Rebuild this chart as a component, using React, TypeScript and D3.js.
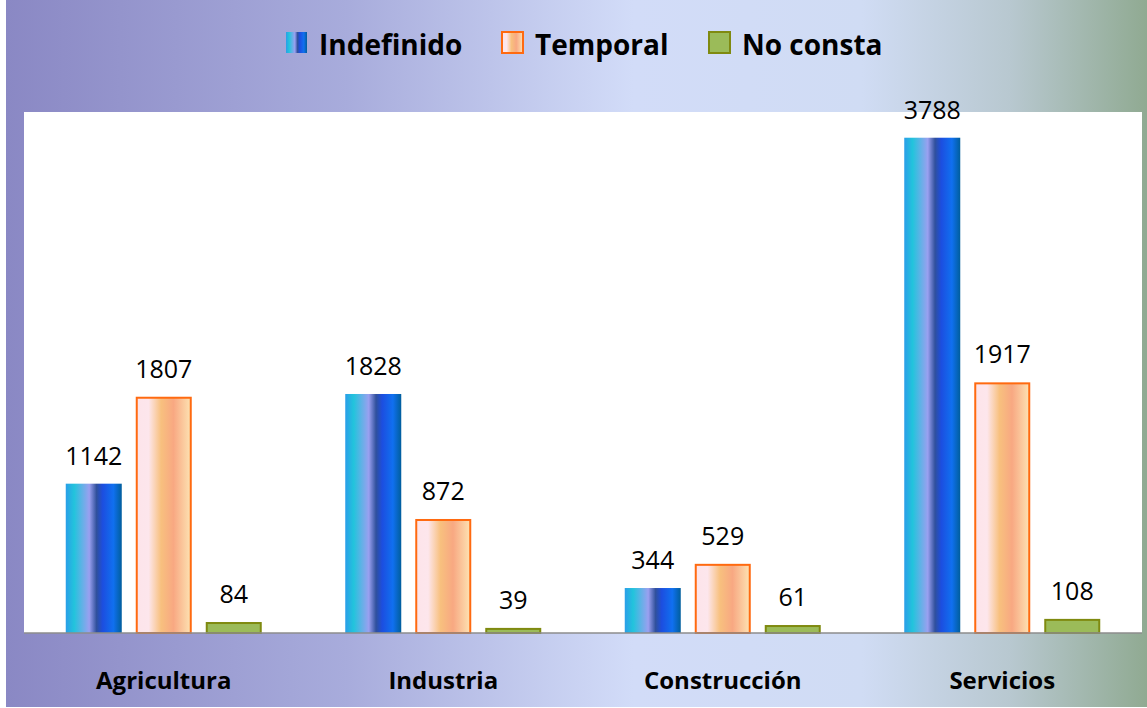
import React, { useEffect, useRef } from 'react';
import * as d3 from 'd3';

const categories = ['Agricultura', 'Industria', 'Construcción', 'Servicios'];
const seriesNames = ['Indefinido', 'Temporal', 'No consta'];
const indefinido = [1142, 1828, 344, 3788];
const temporal = [1807, 872, 529, 1917];
const noConsta = [84, 39, 61, 108];

const App = () => {
    const svgRef = useRef<SVGSVGElement>(null);

    useEffect(() => {
        const width = 1147;
        const height = 708;
        const plot = { left: 24, right: 1142, top: 112, bottom: 633 };
        const svg = d3.select(svgRef.current)
            .attr('width', width)
            .attr('height', height);
        svg.selectAll('*').remove();

        const defs = svg.append('defs');
        const addGrad = (id, stops) => {
            const g = defs.append('linearGradient').attr('id', id)
                .attr('x1', '0%').attr('x2', '100%').attr('y1', '0%').attr('y2', '0%');
            stops.forEach(([o, c]) => g.append('stop').attr('offset', o).attr('stop-color', c));
        };
        addGrad('bg', [['0%', '#8a88c4'], ['30%', '#a8acdc'], ['55%', '#d2dcf8'], ['75%', '#d0dcf4'], ['88%', '#b8c8d0'], ['100%', '#90aa92']]);
        addGrad('gIndef', [['0%', '#2a9ee8'], ['15%', '#22c4dc'], ['42%', '#9aa0f0'], ['55%', '#30509c'], ['66%', '#1c4ee0'], ['85%', '#1070f0'], ['100%', '#005e9c']]);
        addGrad('gTemp', [['0%', '#fde4ea'], ['22%', '#fde6ec'], ['45%', '#f8c07e'], ['68%', '#f8a882'], ['100%', '#fde2b2']]);

        svg.append('rect').attr('x', 6).attr('y', 0).attr('width', width - 6).attr('height', height - 1)
            .attr('fill', 'url(#bg)');
        svg.append('rect').attr('x', plot.left).attr('y', plot.top)
            .attr('width', plot.right - plot.left).attr('height', plot.bottom - plot.top)
            .attr('fill', '#ffffff');

        const x0 = d3.scaleBand().domain(categories).range([plot.left, plot.right]);
        const x1 = d3.scalePoint().domain(seriesNames).range([-70, 70]);
        const y = d3.scaleLinear().domain([0, 4000]).range([plot.bottom, plot.top - 2]);
        const barW = 56;

        const series = [
            { name: 'Indefinido', values: indefinido, fill: 'url(#gIndef)', stroke: 'none' },
            { name: 'Temporal', values: temporal, fill: 'url(#gTemp)', stroke: '#ff6a10' },
            { name: 'No consta', values: noConsta, fill: '#9bbb59', stroke: '#7f8a10' },
        ];

        const font = "'Open Sans', 'Liberation Sans', sans-serif";

        series.forEach(s => {
            const rows = categories.map((c, i) => ({ c, v: s.values[i] }));
            const inset = s.stroke !== 'none' ? 1 : 0;
            svg.append('g').selectAll('rect')
                .data(rows)
                .enter().append('rect')
                .attr('x', d => x0(d.c) + x0.bandwidth() / 2 + x1(s.name) - barW / 2 + inset)
                .attr('y', d => y(d.v) + inset)
                .attr('width', barW - 2 * inset)
                .attr('height', d => y(0) - y(d.v) - inset)
                .attr('fill', s.fill)
                .attr('stroke', s.stroke)
                .attr('stroke-width', 2);
            svg.append('g').selectAll('text')
                .data(rows)
                .enter().append('text')
                .attr('x', d => x0(d.c) + x0.bandwidth() / 2 + x1(s.name))
                .attr('y', d => y(d.v) - 19)
                .attr('text-anchor', 'middle')
                .attr('font-family', font)
                .attr('font-size', 25)
                .attr('fill', '#000')
                .text(d => d.v);
        });

        svg.append('line').attr('x1', plot.left).attr('x2', plot.right)
            .attr('y1', plot.bottom).attr('y2', plot.bottom)
            .attr('stroke', '#8c8c8c').attr('stroke-width', 1.5);

        svg.append('g').selectAll('text')
            .data(categories)
            .enter().append('text')
            .attr('x', d => x0(d) + x0.bandwidth() / 2)
            .attr('y', 689)
            .attr('text-anchor', 'middle')
            .attr('font-family', font)
            .attr('font-weight', 'bold')
            .attr('font-size', 24)
            .attr('fill', '#000')
            .text(d => d);

        // legend
        const legendX = [286, 502, 709];
        const legendFills = ['url(#gIndef)', 'url(#gTemp)', '#9bbb59'];
        const legendStrokes = ['none', '#ff6a10', '#7f8a10'];
        const lg = svg.append('g');
        seriesNames.forEach((name, i) => {
            lg.append('rect').attr('x', legendX[i]).attr('y', 32)
                .attr('width', 21).attr('height', 21)
                .attr('fill', legendFills[i]).attr('stroke', legendStrokes[i]).attr('stroke-width', 2);
            lg.append('text').attr('x', legendX[i] + 33).attr('y', 55)
                .attr('font-family', font).attr('font-weight', 'bold').attr('font-size', 28)
                .attr('fill', '#000')
                .text(name);
        });
    }, []);

    return <svg ref={svgRef} style={{ display: 'block', position: 'absolute', left: 0, top: 0 }}></svg>;
};

export default App;
